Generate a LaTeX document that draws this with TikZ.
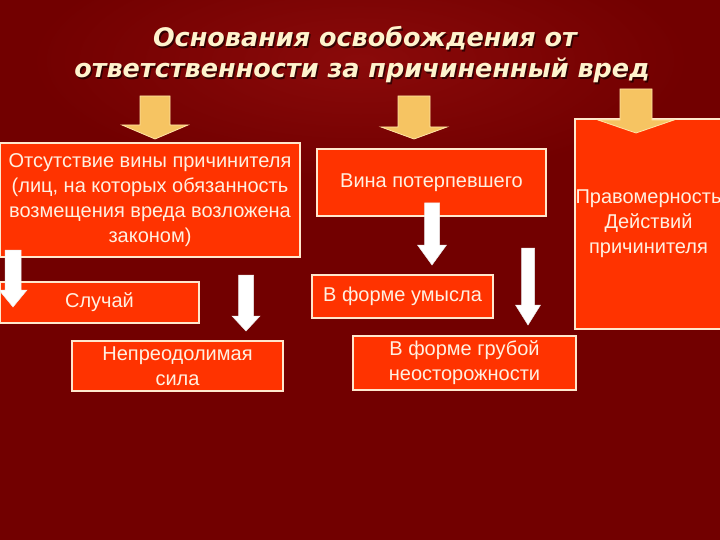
\documentclass[tikz,border=0pt]{standalone}
\usepackage{fontspec}
\setmainfont{Liberation Sans}
\newfontfamily\titlefont{DejaVu Sans}
\definecolor{bg}{RGB}{114,0,0}
\definecolor{bgc}{RGB}{138,10,10}
\definecolor{boxfill}{RGB}{255,51,0}
\definecolor{boxline}{RGB}{255,232,205}
\definecolor{txt}{RGB}{255,240,225}
\definecolor{yarrow}{RGB}{246,196,98}
\definecolor{yline}{RGB}{255,228,165}
\definecolor{titlecol}{RGB}{255,243,205}
\newcommand\blkarrow[7]{%
  \filldraw[#1] (#2-#6,#3) -- (#2+#6,#3) -- (#2+#6,#4) -- (#2+#7,#4) -- (#2,#5)
    -- (#2-#7,#4) -- (#2-#6,#4) -- cycle;}
\tikzset{
  box/.style={draw=boxline, line width=1.6pt, fill=boxfill, text=txt,
    align=center, inner sep=0pt, font=\fontsize{20}{25}\selectfont},
  yarr/.style={fill=yarrow, draw=yline, line width=0.8pt},
  warr/.style={fill=white, draw=white!85!gray, line width=0.5pt},
  ttl/.style={font=\titlefont\bfseries\itshape\fontsize{25.5}{30}\selectfont, text=titlecol},
  shd/.style={font=\titlefont\bfseries\itshape\fontsize{25.5}{30}\selectfont, text=black, opacity=0.6}
}
\begin{document}
\begin{tikzpicture}[x=1pt,y=-1pt]
\useasboundingbox (0,0) rectangle (720,540);
\fill[bg] (0,0) rectangle (720,540);
\shade[inner color=bgc, outer color=bg] (360,60) ellipse [x radius=330, y radius=120];
% title
\node[shd] at (366.5,40) {Основания освобождения от};
\node[shd] at (363.5,72) {ответственности за причиненный вред};
\node[ttl] (t1) at (365,38.5) {Основания освобождения от};
\node[ttl] (t2) at (362,70.5) {ответственности за причиненный вред};
% boxes
\node[box, minimum width=300, minimum height=114] (a) at (150,200)
  {Отсутствие вины причинителя\\(лиц, на которых обязанность\\возмещения вреда возложена\\законом)};
\node[box, minimum width=229, minimum height=67] (b) at (431.5,182.5) {Вина потерпевшего};
\node[box, minimum width=147, minimum height=210] (c) at (648.5,224)
  {Правомерность\\Действий\\причинителя};
\node[box, minimum width=199, minimum height=41] (d) at (99.5,302.5) {Случай};
\node[box, minimum width=211, minimum height=50] (e) at (177.5,366) {Непреодолимая\\сила};
\node[box, minimum width=181, minimum height=43] (f) at (402.5,296.5) {В форме умысла};
\node[box, minimum width=223, minimum height=54] (g) at (464.5,363) {В форме грубой\\неосторожности};
% yellow arrows
\blkarrow{yarr}{155}{96}{125}{139}{15}{33}
\blkarrow{yarr}{414}{96}{127}{139}{16}{33}
\blkarrow{yarr}{636}{89}{120}{133}{16}{38}
% white arrows
\blkarrow{warr}{13}{250}{290}{307}{8}{14}
\blkarrow{warr}{246}{275}{316}{331}{7.5}{14}
\blkarrow{warr}{432}{203}{245}{265}{7.5}{14.5}
\blkarrow{warr}{528}{248}{305}{325}{6.5}{12.5}
\end{tikzpicture}
\end{document}
